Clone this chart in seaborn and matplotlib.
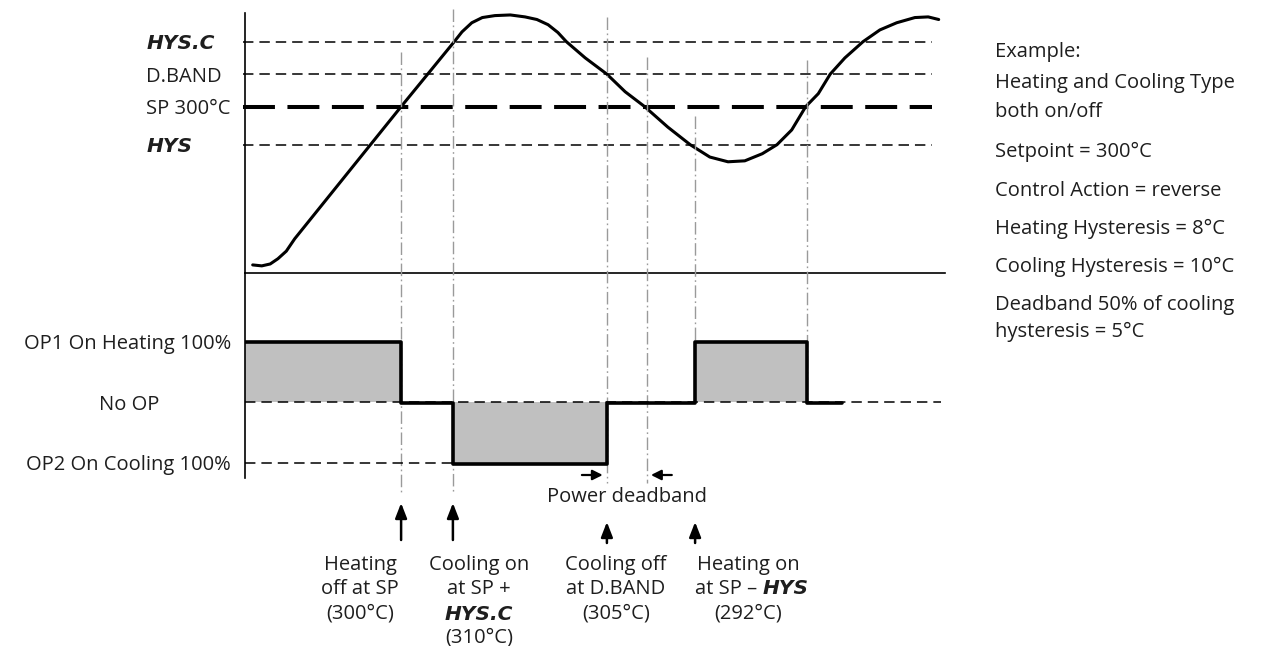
import numpy as np
import matplotlib
matplotlib.use("Agg")
import matplotlib.pyplot as plt
import matplotlib.transforms as mtransforms
import seaborn as sns

# temperature trace, time in arbitrary units (0-100), temperature in degC
time = [1.1, 2.4, 3.6, 4.7, 5.9, 7.1, 22.3, 29.9, 31.0, 32.4, 33.9, 35.7, 37.9,
        40.0, 41.7, 43.3, 44.7, 45.9, 48.6, 51.7, 54.3, 57.1, 60.4, 63.6, 66.4,
        69.0, 71.4, 73.9, 76.0, 78.1, 80.1, 81.9, 83.6, 85.7, 88.3, 90.7, 93.1,
        95.7, 97.6, 99.1]
temp = [266.7, 266.5, 266.9, 268.0, 269.6, 272.2, 300.0, 310.0, 311.5, 312.9,
        313.7, 314.0, 314.1, 313.8, 313.4, 312.6, 311.4, 310.0, 307.5, 305.0,
        302.3, 300.0, 295.7, 292.0, 289.4, 288.4, 288.6, 290.1, 292.0, 295.1,
        300.0, 302.0, 305.0, 307.5, 310.0, 311.8, 312.9, 313.7, 313.8, 313.4]

# threshold levels
level_values = [292, 300, 305, 310]
level_labels = ["HYS", "SP 300°C", "D.BAND", "HYS.C"]
lcd_labels = ["HYS", "HYS.C"]

# output state (step, post)
op_times = [0, 22.3, 29.7, 51.7, 64.3, 80.3, 85.3]
op_levels = [100, 0, -100, 0, 100, 0, 0]
op_ticks = [100, 0, -100]
op_labels = ["OP1 On Heating 100%", "No OP", "OP2 On Cooling 100%"]

# switching events
event_time = [22.3, 29.7, 51.7, 57.4, 64.3, 80.3]
deadband = [51.7, 57.4]

notes = ["Example:", "Heating and Cooling Type", "both on/off",
         "Setpoint = 300°C", "Control Action = reverse",
         "Heating Hysteresis = 8°C", "Cooling Hysteresis = 10°C",
         "Deadband 50% of cooling", "hysteresis = 5°C"]

sns.set_theme(style="white")
plt.rcParams["font.family"] = ["Open Sans", "DejaVu Sans"]
plt.rcParams["lines.scale_dashes"] = False
INK = "#1e1e1e"
FS = 14.5
LCD = dict(family=["Liberation Sans Narrow", "DejaVu Sans"], weight="bold",
           style="italic", size=14.5)

W, H = 1267, 646
fig = plt.figure(figsize=(W / 100, H / 100), dpi=100)


def fx(px):
    return px / W


def fy(px):
    return 1 - px / H


ax_t = fig.add_axes([fx(245), fy(273), fx(945) - fx(245), fy(13) - fy(273)])
ax_o = fig.add_axes([fx(245), fy(478), fx(945) - fx(245), fy(273) - fy(478)])
for ax in (ax_t, ax_o):
    ax.patch.set_visible(False)
    ax.set_xticks([])
    for s in ax.spines.values():
        s.set_visible(False)
        s.set_linewidth(1.2)
        s.set_color("black")
ax_t.spines["left"].set_visible(True)
ax_t.spines["bottom"].set_visible(True)
ax_o.spines["left"].set_visible(True)

# schematic temperature scale: above SP drawn stretched
SP = 300.0


def fwd(v):
    v = np.asarray(v, float)
    return np.where(v <= SP, v, SP + (v - SP) * 6.5 / 4.75)


def inv(v):
    v = np.asarray(v, float)
    return np.where(v <= SP, v, SP + (v - SP) * 4.75 / 6.5)


ax_t.set_yscale("function", functions=(fwd, inv))

# threshold lines
for v in level_values:
    if v == SP:
        ax_t.hlines(v, -0.3, 98.1, colors="black", lw=2.9,
                    linestyles=[(0, (23, 9))], clip_on=False)
    else:
        ax_t.hlines(v, -0.3, 98.1, colors="black", lw=1.1,
                    linestyles=[(0, (7.5, 4.3))], clip_on=False)

sns.lineplot(x=time, y=temp, ax=ax_t, color="black", lw=2.2, sort=False)

ax_t.set_yticks(level_values, level_labels)
ax_t.tick_params(axis="y", length=0, pad=71)
for lbl in ax_t.get_yticklabels():
    lbl.set_ha("left")
    lbl.set_color(INK)
    if lbl.get_text() in lcd_labels:
        lbl.set_fontproperties(LCD)
    else:
        lbl.set_fontsize(FS)
ax_t.set_xlim(0, 100)
ax_t.set_ylim(265, 314.4)

# output panel
ax_o.fill_between(op_times, op_levels, 0, step="post", color="#c0c0c0", lw=0)
ax_o.hlines(0, 0, 99.4, colors="black", lw=1.1, linestyles=[(0, (7.5, 4.3))])
ax_o.hlines(-100, 0, event_time[1], colors="black", lw=1.1,
            linestyles=[(0, (7.5, 4.3))])
step_tr = mtransforms.offset_copy(ax_o.transData, fig=fig, y=-1.2, units="dots")
sns.lineplot(x=op_times, y=op_levels, ax=ax_o, color="black", lw=2.6,
             drawstyle="steps-post", transform=step_tr)

ax_o.set_yticks(op_ticks, op_labels)
ax_o.tick_params(axis="y", length=0, pad=10)
for lbl in ax_o.get_yticklabels():
    lbl.set_fontsize(FS)
    lbl.set_color(INK)
    if lbl.get_text() == "No OP":
        lbl.set_ha("center")
        lbl.set_x(-0.1457)
ax_o.set_xlim(0, 100)
ax_o.set_ylim(-124.6, 211.5)

# event lines across both panels
bt = mtransforms.blended_transform_factory(ax_o.transData, fig.transFigure)
line_tops = [52, 9, 17, 57, 116, 60]
line_bots = [492, 492, 483, 483, 341, 402]
for t, a, b in zip(event_time, line_tops, line_bots):
    ax_o.plot([t, t], [fy(a), fy(b)], transform=bt, color="#9a9a9a", lw=1.0,
              ls=(0, (9, 2.5, 1.2, 2.5)), clip_on=False, zorder=0.5)

# power deadband arrows
harrow = dict(arrowstyle="-|>,head_length=0.6,head_width=0.3", color="black",
              lw=1.6, mutation_scale=10, shrinkA=0, shrinkB=3)
ax_o.annotate("", xy=(deadband[0], fy(475)), xycoords=bt, xytext=(-18, 0),
              textcoords="offset points", arrowprops=harrow)
ax_o.annotate("", xy=(deadband[1], fy(475)), xycoords=bt, xytext=(18, 0),
              textcoords="offset points", arrowprops=harrow)
ax_o.text(np.mean(deadband), fy(497), "Power deadband", transform=bt,
          ha="center", va="center", fontsize=FS, color=INK)

# event arrows and captions
varrow = dict(arrowstyle="-|>,head_length=0.9,head_width=0.35", color="black",
              lw=1.8, mutation_scale=10, shrinkA=0, shrinkB=0)
arrow_t = [event_time[0], event_time[1], event_time[2], event_time[4]]
arrow_span = [(540, 503), (540, 503), (543, 522), (543, 522)]
for t, (b, a) in zip(arrow_t, arrow_span):
    ax_o.annotate("", xy=(t, fy(a)), xycoords=bt, xytext=(t, fy(b)),
                  textcoords=bt, arrowprops=varrow)


def caption(t, dx, ypx, s, **kw):
    tr = mtransforms.offset_copy(bt, fig=fig, x=dx, units="points")
    props = dict(ha="center", va="center", fontsize=FS, color=INK)
    props.update(kw)
    ax_o.text(t, fy(ypx), s, transform=tr, **props)


caption(arrow_t[0], -29.5, 565, "Heating")
caption(arrow_t[0], -29.5, 589, "off at SP")
caption(arrow_t[0], -29.5, 614, "(300°C)")
caption(arrow_t[1], 18.7, 565, "Cooling on")
caption(arrow_t[1], 18.7, 589, "at SP +")
caption(arrow_t[1], 18.7, 615, "HYS.C", fontproperties=LCD)
caption(arrow_t[1], 18.7, 637, "(310°C)")
caption(arrow_t[2], 6.5, 565, "Cooling off")
caption(arrow_t[2], 6.5, 589, "at D.BAND")
caption(arrow_t[2], 6.5, 614, "(305°C)")
caption(arrow_t[3], 38, 565, "Heating on")
caption(arrow_t[3], 45, 589, "at SP –", ha="right")
caption(arrow_t[3], 48.5, 589, "HYS", ha="left", fontproperties=LCD)
caption(arrow_t[3], 38, 614, "(292°C)")

# example notes on the right
note_y = [52, 83, 112, 152, 191, 229, 267, 305, 332]
for s, y in zip(notes, note_y):
    fig.text(fx(995), fy(y), s, ha="left", va="center", fontsize=FS, color=INK)

fig.savefig("out.png", dpi=100)
